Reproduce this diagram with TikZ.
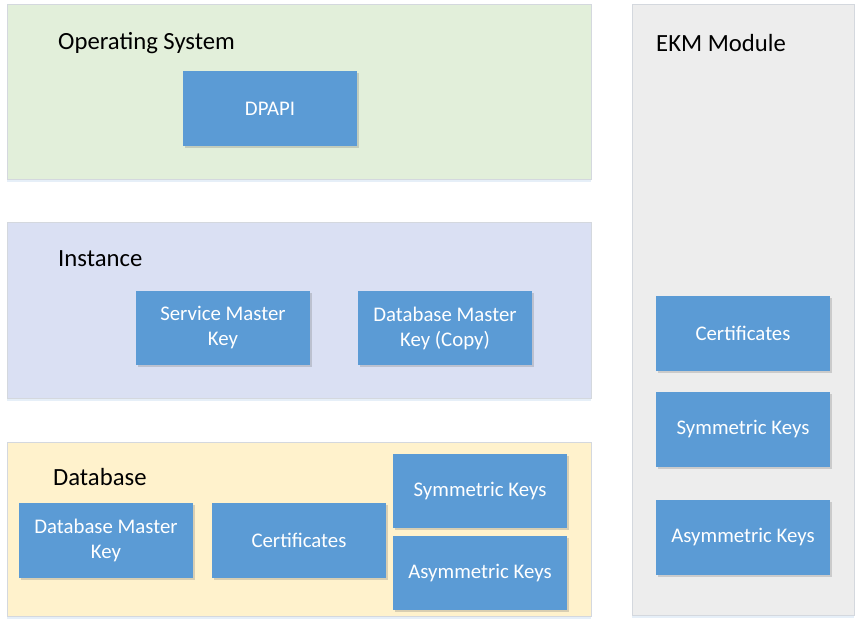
\documentclass[tikz,border=0pt]{standalone}
\usepackage{fontspec}
\setmainfont{Carlito}
\usetikzlibrary{shadows}
\definecolor{osfill}{HTML}{E2EFDA}
\definecolor{instfill}{HTML}{DAE0F3}
\definecolor{dbfill}{HTML}{FFF2CC}
\definecolor{ekmfill}{HTML}{EDEDED}
\definecolor{boxblue}{HTML}{5B9BD5}
\definecolor{edgecol}{HTML}{D4D8DE}
\begin{document}
\begin{tikzpicture}[x=1pt,y=-1pt,
  container/.style={draw=edgecol,line width=0.8pt,rectangle,inner sep=0pt,
    drop shadow={shadow xshift=0pt,shadow yshift=-2.5pt,opacity=0.25,fill=boxblue!60}},
  keybox/.style={fill=boxblue,draw=none,rectangle,inner sep=0pt,
    text=white,align=center,font=\fontsize{20.8}{25}\selectfont,
    drop shadow={shadow xshift=1.5pt,shadow yshift=-2pt,opacity=0.25,fill=black!60}},
  title/.style={anchor=west,inner sep=0pt,font=\fontsize{24.7}{28}\selectfont,text=black}]
\useasboundingbox (0,0) rectangle (863,629);
\fill[white] (0,0) rectangle (863,629);
% containers
\node[container,fill=osfill,minimum width=584pt,minimum height=175pt] (os) at (299,91.5) {};
\node[container,fill=instfill,minimum width=584pt,minimum height=176pt] (inst) at (299,310) {};
\node[container,fill=dbfill,minimum width=584pt,minimum height=174pt] (db) at (299,529) {};
\node[container,fill=ekmfill,minimum width=222pt,minimum height=611pt] (ekm) at (743,309.5) {};
% titles
\node[title] (ostitle) at (58,43) {Operating System};
\node[title] (insttitle) at (58,259) {Instance};
\node[title] (dbtitle) at (53,477) {Database};
\node[title] (ekmtitle) at (656,43) {EKM Module};
% blue boxes
\node[keybox,minimum width=174pt,minimum height=75pt] (dpapi) at (270,108.5) {DPAPI};
\node[keybox,minimum width=174pt,minimum height=74pt] (smk) at (223,328) {Service Master\\Key};
\node[keybox,minimum width=174pt,minimum height=74pt] (dmkc) at (445,328) {Database Master\\Key (Copy)};
\node[keybox,minimum width=174pt,minimum height=75pt] (dmk) at (106,540.5) {Database Master\\Key};
\node[keybox,minimum width=174pt,minimum height=75pt] (cert) at (299,540.5) {Certificates};
\node[keybox,minimum width=174pt,minimum height=74pt] (symk) at (480,491) {Symmetric Keys};
\node[keybox,minimum width=174pt,minimum height=74pt] (asymk) at (480,573) {Asymmetric Keys};
\node[keybox,minimum width=174pt,minimum height=75pt] (ekmcert) at (743,333.5) {Certificates};
\node[keybox,minimum width=174pt,minimum height=75pt] (ekmsym) at (743,429.5) {Symmetric Keys};
\node[keybox,minimum width=174pt,minimum height=75pt] (ekmasym) at (743,537.5) {Asymmetric Keys};
\end{tikzpicture}
\end{document}
